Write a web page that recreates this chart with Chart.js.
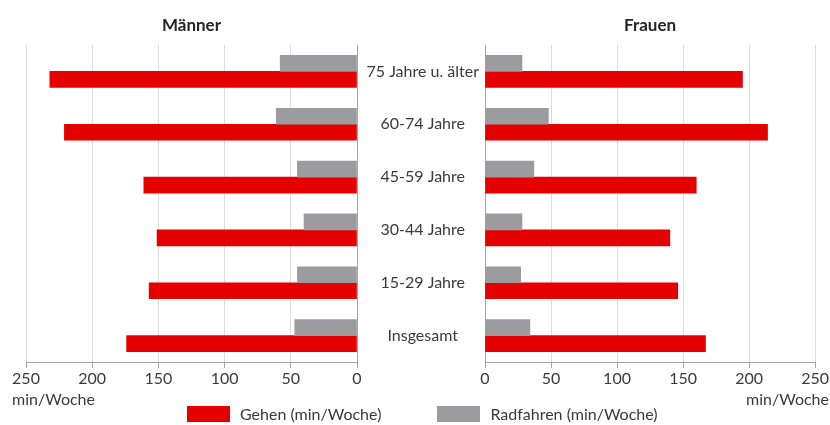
<!DOCTYPE html>
<html>
<head>
  <title>Gehen und Radfahren</title>
  <style>
    body { margin: 0; background: #fff; }
    #wrap { position: relative; width: 830px; height: 425px; overflow: hidden; font-family: Lato, sans-serif; }
    #wrap canvas { position: absolute; top: 0; }
    #legend {
      position: absolute; top: 406px; left: 187px;
      display: flex; align-items: center;
      font-size: 16px; color: #3a3a3a; white-space: nowrap;
    }
    #legend .box { display: inline-block; width: 43px; height: 16px; margin-right: 10px; }
    #legend .item { display: flex; align-items: center; margin-right: 56px; line-height: 16px; }
  </style>
  <script src="https://cdn.jsdelivr.net/npm/chart.js"></script>
</head>
<body>
  <div id="wrap">
    <canvas id="men" width="370" height="425" style="left:0"></canvas>
    <canvas id="women" width="473" height="425" style="left:357px"></canvas>
    <div id="legend"></div>
  </div>

  <script>
    // Altersgruppen, von oben nach unten
    const ageGroups = ['75 Jahre u. älter', '60-74 Jahre', '45-59 Jahre', '30-44 Jahre', '15-29 Jahre', 'Insgesamt'];

    // min/Woche
    const menWalking = [232, 221, 161, 151, 157, 174];
    const menCycling = [58, 61, 45, 40, 45, 47];
    const womenWalking = [195, 214, 160, 140, 146, 167];
    const womenCycling = [28, 48, 37, 28, 27, 34];

    const xTicks = [0, 50, 100, 150, 200, 250];
    const seriesLabels = ['Gehen (min/Woche)', 'Radfahren (min/Woche)'];
    const seriesColors = ['#e50000', '#9c9ba0'];

    const textColor = '#3a3a3a';
    const gridColor = '#dcdcdc';
    const axisColor = '#a6a6a6';

    Chart.defaults.font.family = 'Lato, sans-serif';
    Chart.defaults.font.size = 16;
    Chart.defaults.color = textColor;

    // panel heading plus the "min/Woche" unit under the 250 tick
    const panelText = {
      id: 'panelText',
      afterDraw(chart, args, opts) {
        const { ctx, chartArea } = chart;
        const x = chart.scales.x;
        ctx.save();
        ctx.font = 'bold 17px Lato, sans-serif';
        ctx.fillStyle = '#262626';
        ctx.textAlign = 'center';
        ctx.textBaseline = 'middle';
        ctx.fillText(opts.title, (chartArea.left + chartArea.right) / 2, 26);

        ctx.font = '16px Lato, sans-serif';
        ctx.fillStyle = textColor;
        ctx.textBaseline = 'alphabetic';
        const last = xTicks[xTicks.length - 1];
        const half = ctx.measureText(String(last)).width / 2;
        const px = x.getPixelForValue(last);
        if (opts.unitSide === 'left') {
          ctx.textAlign = 'left';
          ctx.fillText('min/Woche', px - half, x.top + 43);
        } else {
          ctx.textAlign = 'right';
          ctx.fillText('min/Woche', px + half, x.top + 43);
        }
        ctx.restore();
      }
    };

    function xScale(reverse) {
      return {
        reverse: reverse,
        min: 0,
        max: 250,
        afterBuildTicks: (scale) => { scale.ticks = xTicks.map(v => ({ value: v })); },
        afterFit: (scale) => { scale.height = 63; },
        grid: { color: gridColor, tickColor: axisColor, tickLength: 6 },
        border: { color: axisColor },
        ticks: { padding: 1, color: textColor, font: { size: 16 } }
      };
    }

    function datasets(walking, cycling) {
      return [
        { label: seriesLabels[1], data: cycling, backgroundColor: seriesColors[1] },
        { label: seriesLabels[0], data: walking, backgroundColor: seriesColors[0] }
      ];
    }

    const common = {
      indexAxis: 'y',
      responsive: false,
      animation: false,
      datasets: { bar: { barThickness: 16 } },
      plugins: { legend: { display: false }, tooltip: { enabled: false } }
    };

    new Chart(document.getElementById('men'), {
      type: 'bar',
      data: { labels: ageGroups, datasets: datasets(menWalking, menCycling) },
      plugins: [panelText],
      options: {
        ...common,
        layout: { padding: { top: 45, left: 26, right: 13, bottom: 0 } },
        plugins: { ...common.plugins, panelText: { title: 'Männer', unitSide: 'left' } },
        scales: {
          x: xScale(true),
          y: {
            position: 'right',
            afterFit: (scale) => { scale.width = 0; },
            grid: { display: false },
            border: { color: axisColor },
            ticks: { display: false }
          }
        }
      }
    });

    new Chart(document.getElementById('women'), {
      type: 'bar',
      data: { labels: ageGroups, datasets: datasets(womenWalking, womenCycling) },
      plugins: [panelText],
      options: {
        ...common,
        layout: { padding: { top: 45, left: 0, right: 14, bottom: 0 } },
        plugins: { ...common.plugins, panelText: { title: 'Frauen', unitSide: 'right' } },
        scales: {
          x: xScale(false),
          y: {
            position: 'left',
            afterFit: (scale) => { scale.width = 128; },
            grid: { display: false, drawTicks: false },
            border: { color: axisColor },
            ticks: { crossAlign: 'center', padding: 6, color: textColor, font: { size: 16 } }
          }
        }
      }
    });

    // legend for both panels, walking first
    const legend = document.getElementById('legend');
    [0, 1].forEach((i) => {
      const item = document.createElement('span');
      item.className = 'item';
      item.innerHTML = `<span class="box" style="background:${seriesColors[i]}"></span>${seriesLabels[i]}`;
      legend.appendChild(item);
    });
  </script>
</body>
</html>
